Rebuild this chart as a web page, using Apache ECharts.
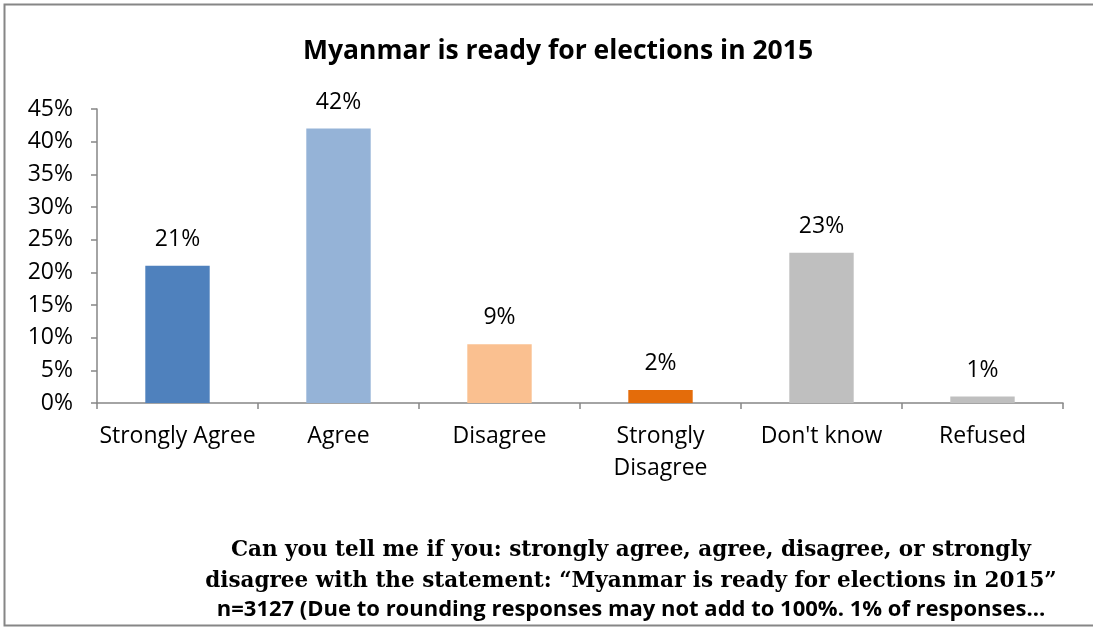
<!DOCTYPE html>
<html>
<head>
<meta charset="utf-8">
<script src="https://cdn.jsdelivr.net/npm/echarts@6/dist/echarts.min.js"></script>
<style>
  html, body { margin: 0; padding: 0; background: #fff; }
  #chart { width: 1093px; height: 633px; }
</style>
</head>
<body>
<div id="chart"></div>
<script>
// Survey responses
const categories = ['Strongly Agree', 'Agree', 'Disagree', 'Strongly\nDisagree', "Don't know", 'Refused'];
const shares = [21, 42, 9, 2, 23, 1];
const barColors = ['#4F81BD', '#95B3D7', '#FAC090', '#E46C0A', '#BFBFBF', '#BFBFBF'];
const yTicks = [0, 5, 10, 15, 20, 25, 30, 35, 40, 45];

const sansFont = '"Open Sans", Lato, sans-serif';
const serifFont = '"DejaVu Serif", "Liberation Serif", serif';

const chart = echarts.init(document.getElementById('chart'), null, { renderer: 'canvas' });

chart.setOption({
  backgroundColor: '#ffffff',
  animation: false,
  title: [
    {
      text: 'Myanmar is ready for elections in 2015',
      left: 553, top: 33, textAlign: 'center',
      textStyle: { fontFamily: sansFont, fontWeight: 'bold', fontSize: 26.5, color: '#000' }
    },
    {
      text: 'Can you tell me if you: strongly agree, agree, disagree, or strongly',
      left: 626, top: 534, textAlign: 'center',
      textStyle: { fontFamily: serifFont, fontWeight: 'bold', fontSize: 21.5, color: '#000' }
    },
    {
      text: 'disagree with the statement: \u201CMyanmar is ready for elections in 2015\u201D',
      left: 626, top: 565, textAlign: 'center',
      textStyle: { fontFamily: serifFont, fontWeight: 'bold', fontSize: 21.5, color: '#000' }
    },
    {
      text: 'n=3127 (Due to rounding responses may not add to 100%. 1% of responses...',
      left: 626, top: 594, textAlign: 'center',
      textStyle: { fontFamily: sansFont, fontWeight: 'bold', fontSize: 22, color: '#000' }
    }
  ],
  graphic: [
    {
      type: 'rect',
      shape: { x: 4.5, y: 4.5, width: 1094, height: 621 },
      style: { fill: 'none', stroke: '#868686', lineWidth: 2 },
      silent: true, z: -1
    }
  ],
  grid: { left: 97, right: 30, top: 109, bottom: 230, containLabel: false },
  xAxis: {
    type: 'category',
    data: categories,
    axisLine: { lineStyle: { color: '#868686', width: 1.5 } },
    axisTick: { show: true, alignWithLabel: false, length: 6, lineStyle: { color: '#868686', width: 1.5 } },
    axisLabel: { fontFamily: sansFont, fontSize: 23, color: '#000', margin: 17, lineHeight: 32, interval: 0 }
  },
  yAxis: {
    type: 'value',
    min: 0, max: 45, interval: 5,
    axisLine: { show: true, lineStyle: { color: '#868686', width: 1.5 } },
    axisTick: { show: true, length: 6, lineStyle: { color: '#868686', width: 1.5 } },
    splitLine: { show: false },
    axisLabel: {
      fontFamily: sansFont, fontSize: 23, color: '#000', margin: 24,
      formatter: v => (yTicks.includes(v) ? v + '%' : '')
    }
  },
  series: [{
    type: 'bar',
    data: shares.map((v, i) => ({ value: v, itemStyle: { color: barColors[i] } })),
    barWidth: '40%',
    label: {
      show: true, position: 'top', distance: 15,
      fontFamily: sansFont, fontSize: 23, color: '#000',
      formatter: p => p.value + '%'
    }
  }]
});
</script>
</body>
</html>
